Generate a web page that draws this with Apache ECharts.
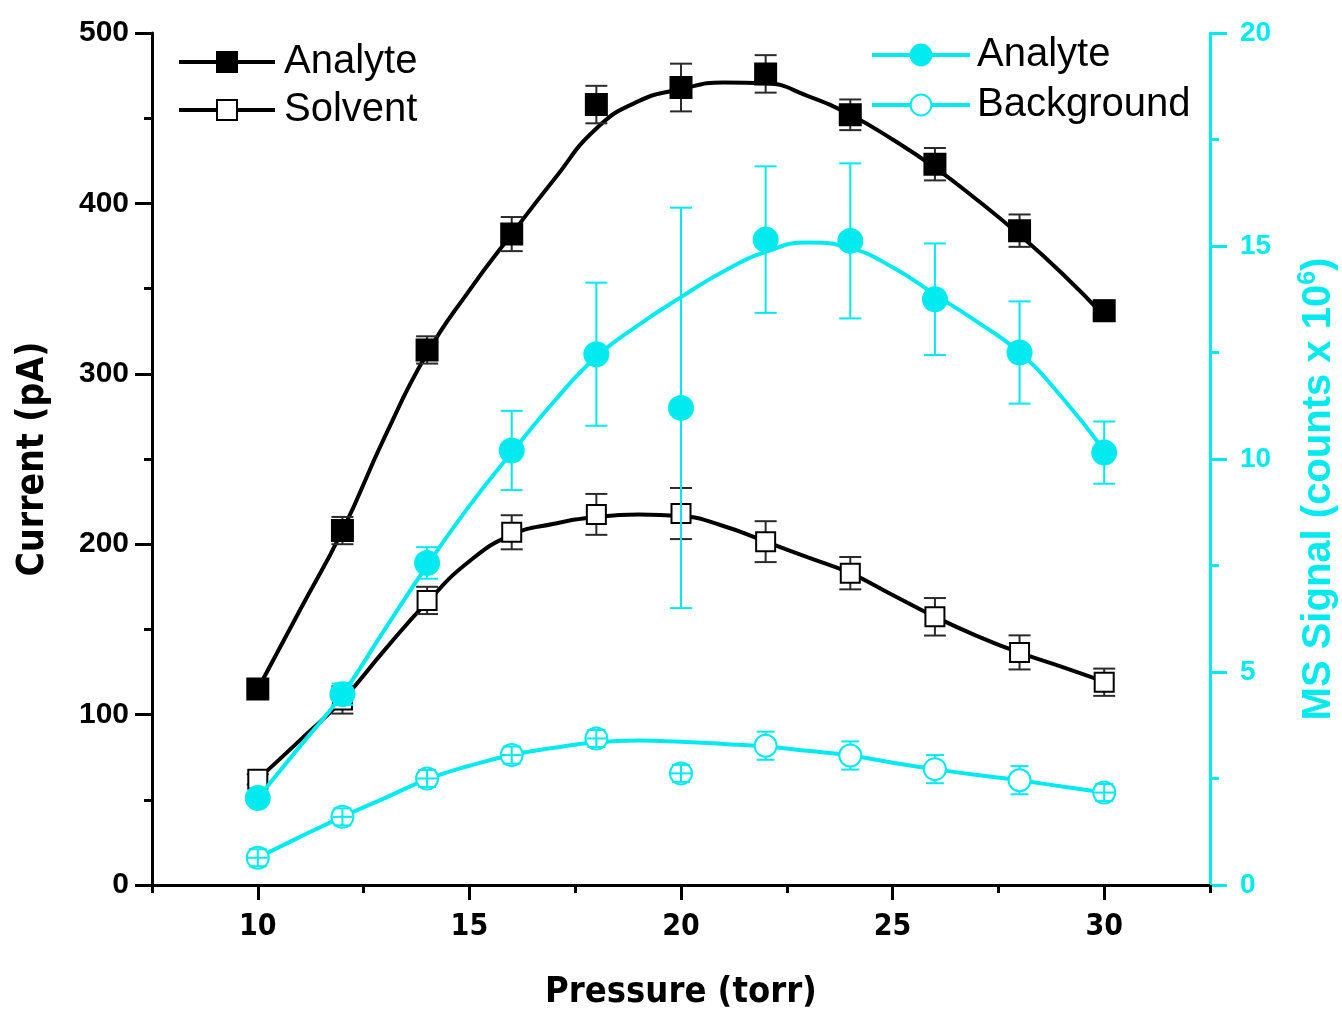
<!DOCTYPE html>
<html>
<head>
<meta charset="utf-8">
<script src="https://cdn.jsdelivr.net/npm/echarts@6/dist/echarts.min.js"></script>
<style>
  html, body { margin: 0; padding: 0; background: #fff; }
  #chart { width: 1342px; height: 1013px; }
</style>
</head>
<body>
<div id="chart"></div>
<script>
// measured points, pressure (torr)
var pressure = [10, 12, 14, 16, 18, 20, 22, 24, 26, 28, 30];

// current (pA), left axis
var analyteCurrent = [115, 208, 314, 382, 458, 468, 476, 452, 423, 384, 337];
var analyteCurrentErr = [3, 8, 8, 10, 11, 14, 11, 9, 9.5, 9.5, 6];
var solventCurrent = [62, 108.6, 167, 207, 217.5, 218, 201.5, 183, 157.4, 136.5, 119];
var solventCurrentErr = [3, 8, 8, 10, 12, 15, 12, 9.5, 11, 10, 8];

// MS signal (counts x 10^6), right axis
var analyteMS = [2.04, 4.48, 7.56, 10.2, 12.46, 11.2, 15.15, 15.12, 13.75, 12.5, 10.15];
var analyteMSErr = [0.1, 0.25, 0.37, 0.93, 1.68, 4.7, 1.72, 1.82, 1.31, 1.2, 0.73];
var backgroundMS = [0.64, 1.6, 2.5, 3.05, 3.44, 2.62, 3.27, 3.04, 2.72, 2.46, 2.17];
var backgroundMSErr = [0.2, 0.2, 0.2, 0.2, 0.2, 0.2, 0.33, 0.33, 0.33, 0.33, 0.2];

// fitted curves at every torr
var fitPressure = [10, 11, 12, 13, 14, 15, 16, 17, 18, 19, 20, 21, 22, 23, 24, 25, 26, 27, 28, 29, 30];
var analyteCurrentFit = [115, 161.5, 208, 263, 312, 349, 382, 414, 444, 460, 467, 471, 470.5, 463, 452, 437.5, 421, 402, 381.5, 359, 334];
var solventCurrentFit = [62, 85, 108.6, 138, 166, 190, 205.5, 212, 216, 217.5, 216.5, 210.7, 201.5, 192.2, 183, 170.2, 157.4, 146.1, 136.3, 128, 119.3];
var analyteMSFit = [2.04, 3.26, 4.48, 6.0, 7.5, 8.9, 10.15, 11.35, 12.4, 13.15, 13.8, 14.4, 14.86, 15.08, 14.95, 14.5, 13.86, 13.22, 12.5, 11.45, 10.2];
var backgroundMSFit = [0.64, 1.13, 1.6, 2.04, 2.48, 2.8, 3.05, 3.22, 3.35, 3.39, 3.36, 3.31, 3.25, 3.15, 3.04, 2.87, 2.72, 2.58, 2.46, 2.31, 2.17];

var xMajorTicks = [10, 15, 20, 25, 30];

var CYAN = '#00eaf0';
var BOLD = "'Liberation Sans', Arial, sans-serif";
var NARROW = "'Liberation Sans Narrow', 'DejaVu Sans Condensed', 'Liberation Sans', sans-serif";

function pairs(xs, ys) {
    return xs.map(function (x, i) { return [x, ys[i]]; });
}

// vertical error bars with caps; keep() picks which points this series draws
function errorSeries(ys, errs, yIdx, color, capW, z, midLine, keep) {
    var rows = [];
    pressure.forEach(function (x, i) {
        if (!keep || keep(errs[i])) rows.push([x, ys[i] - errs[i], ys[i] + errs[i], ys[i]]);
    });
    return {
        type: 'custom',
        yAxisIndex: yIdx,
        z: z,
        silent: true,
        data: rows,
        encode: { x: 0, y: [1, 2] },
        renderItem: function (params, api) {
            var lo = api.coord([api.value(0), api.value(1)]);
            var hi = api.coord([api.value(0), api.value(2)]);
            var hw = capW / 2;
            var st = { stroke: color, lineWidth: 2 };
            var kids = [
                { type: 'line', shape: { x1: lo[0], y1: lo[1], x2: hi[0], y2: hi[1] }, style: st },
                { type: 'line', shape: { x1: lo[0] - hw, y1: lo[1], x2: lo[0] + hw, y2: lo[1] }, style: st },
                { type: 'line', shape: { x1: hi[0] - hw, y1: hi[1], x2: hi[0] + hw, y2: hi[1] }, style: st }
            ];
            if (midLine) {
                var c = api.coord([api.value(0), api.value(3)]);
                kids.push({ type: 'line', shape: { x1: c[0] - 10, y1: c[1], x2: c[0] + 10, y2: c[1] }, style: st });
            }
            return { type: 'group', children: kids };
        }
    };
}

function fitSeries(ys, yIdx, color, z) {
    return {
        type: 'line',
        yAxisIndex: yIdx,
        z: z,
        silent: true,
        smooth: 0.5,
        symbol: 'none',
        data: pairs(fitPressure, ys),
        lineStyle: { color: color, width: 4 }
    };
}

function markSeries(name, ys, yIdx, symbol, size, fill, stroke, z) {
    return {
        name: name,
        type: 'line',
        yAxisIndex: yIdx,
        z: z,
        symbol: symbol,
        symbolSize: size,
        showAllSymbol: true,
        data: pairs(pressure, ys),
        lineStyle: { color: stroke, width: 4, opacity: 0 },
        itemStyle: { color: fill, borderColor: stroke, borderWidth: 2, opacity: 1 }
    };
}

var myChart = echarts.init(document.getElementById('chart'));

option = {
    backgroundColor: '#fff',
    animation: false,
    grid: { left: 152, right: 132, top: 33, bottom: 128, outerBoundsMode: 'none' },
    legend: [{
        left: 172,
        top: 36,
        orient: 'vertical',
        itemWidth: 96,
        itemHeight: 25,
        itemGap: 6,
        data: ['Analyte', 'Solvent'],
        lineStyle: { width: 4, opacity: 1 },
        textStyle: { fontSize: 40, fontFamily: BOLD, color: '#000', padding: [0, 0, 0, 4], lineHeight: 42 }
    }, {
        left: 865,
        top: 29,
        orient: 'vertical',
        itemWidth: 98,
        itemHeight: 26,
        itemGap: 8,
        data: ['Analyte ', 'Background'],
        lineStyle: { width: 4, opacity: 1 },
        textStyle: { fontSize: 40, fontFamily: BOLD, color: '#000', padding: [0, 0, 0, 2], lineHeight: 42 }
    }],
    xAxis: [{
        type: 'value',
        min: 7.5,
        max: 32.5,
        interval: 2.5,
        name: 'Pressure (torr)',
        nameLocation: 'middle',
        nameGap: 90,
        nameTextStyle: { fontSize: 36, fontWeight: 'bold', fontFamily: NARROW, color: '#000' },
        axisLine: { lineStyle: { color: '#000', width: 3 } },
        axisTick: { length: 8, lineStyle: { color: '#000', width: 3 } },
        axisLabel: {
            margin: 27,
            fontSize: 30,
            fontWeight: 'bold',
            fontFamily: NARROW,
            color: '#000',
            formatter: function (v) { return v % 5 === 0 ? String(v) : ''; }
        },
        splitLine: { show: false }
    }, {
        type: 'value',
        min: 7.5,
        max: 32.5,
        position: 'bottom',
        axisLine: { show: false },
        axisTick: { length: 15, customValues: xMajorTicks, lineStyle: { color: '#000', width: 3 } },
        axisLabel: { show: false },
        splitLine: { show: false }
    }],
    yAxis: [{
        type: 'value',
        position: 'left',
        min: 0,
        max: 500,
        interval: 50,
        name: 'Current (pA)',
        nameLocation: 'middle',
        nameRotate: 90,
        nameGap: 100,
        nameTextStyle: { fontSize: 37, fontWeight: 'bold', fontFamily: NARROW, color: '#000' },
        axisLine: { show: true, lineStyle: { color: '#000', width: 3 } },
        axisTick: { show: true, length: 8, lineStyle: { color: '#000', width: 3 } },
        axisLabel: {
            margin: 23,
            fontSize: 30,
            fontWeight: 'bold',
            fontFamily: BOLD,
            color: '#000',
            formatter: function (v) { return v % 100 === 0 ? String(v) : ''; }
        },
        splitLine: { show: false }
    }, {
        type: 'value',
        position: 'left',
        offset: 0,
        min: 0,
        max: 500,
        interval: 100,
        axisLine: { show: false },
        axisTick: { show: true, length: 17, lineStyle: { color: '#000', width: 3 } },
        axisLabel: { show: false },
        splitLine: { show: false }
    }, {
        type: 'value',
        position: 'right',
        min: 0,
        max: 20,
        interval: 2.5,
        name: '{a|MS Signal (counts x 10}{s|6}{a|)}',
        nameLocation: 'middle',
        nameRotate: 90,
        nameGap: 86,
        nameTextStyle: {
            padding: [0, 60, 0, 0],
            rich: {
                a: { fontSize: 40, fontWeight: 'bold', fontFamily: BOLD, color: CYAN, lineHeight: 46 },
                s: { fontSize: 25, fontWeight: 'bold', fontFamily: BOLD, color: CYAN, verticalAlign: 'top', lineHeight: 46 }
            }
        },
        axisLine: { show: true, lineStyle: { color: CYAN, width: 3 } },
        axisTick: { show: true, length: 9, lineStyle: { color: CYAN, width: 3 } },
        axisLabel: {
            margin: 30,
            fontSize: 28,
            fontWeight: 'bold',
            fontFamily: BOLD,
            color: CYAN,
            formatter: function (v) { return v % 5 === 0 ? String(v) : ''; }
        },
        splitLine: { show: false }
    }, {
        type: 'value',
        position: 'right',
        offset: 0,
        min: 0,
        max: 20,
        interval: 5,
        axisLine: { show: false },
        axisTick: { show: true, length: 17, lineStyle: { color: CYAN, width: 3 } },
        axisLabel: { show: false },
        splitLine: { show: false }
    }],
    series: [
        fitSeries(analyteCurrentFit, 0, '#000', 2),
        fitSeries(solventCurrentFit, 0, '#000', 2),
        errorSeries(analyteCurrent, analyteCurrentErr, 0, '#2a2a2a', 22, 3, false),
        errorSeries(solventCurrent, solventCurrentErr, 0, '#2a2a2a', 22, 3, false),
        markSeries('Analyte', analyteCurrent, 0, 'rect', 21, '#000', '#000', 4),
        markSeries('Solvent', solventCurrent, 0, 'rect', 19, '#fff', '#000', 4),
        fitSeries(analyteMSFit, 2, CYAN, 5),
        fitSeries(backgroundMSFit, 2, CYAN, 5),
        errorSeries(analyteMS, analyteMSErr, 2, CYAN, 22, 6, false),
        errorSeries(backgroundMS, backgroundMSErr, 2, CYAN, 18, 6, false),
        markSeries('Analyte ', analyteMS, 2, 'circle', 24, CYAN, CYAN, 7),
        markSeries('Background', backgroundMS, 2, 'circle', 22, '#fff', CYAN, 7),
        errorSeries(backgroundMS, backgroundMSErr, 2, CYAN, 14, 8, true, function (e) { return e < 0.25; })
    ]
};
myChart.setOption(option);
</script>
</body>
</html>
